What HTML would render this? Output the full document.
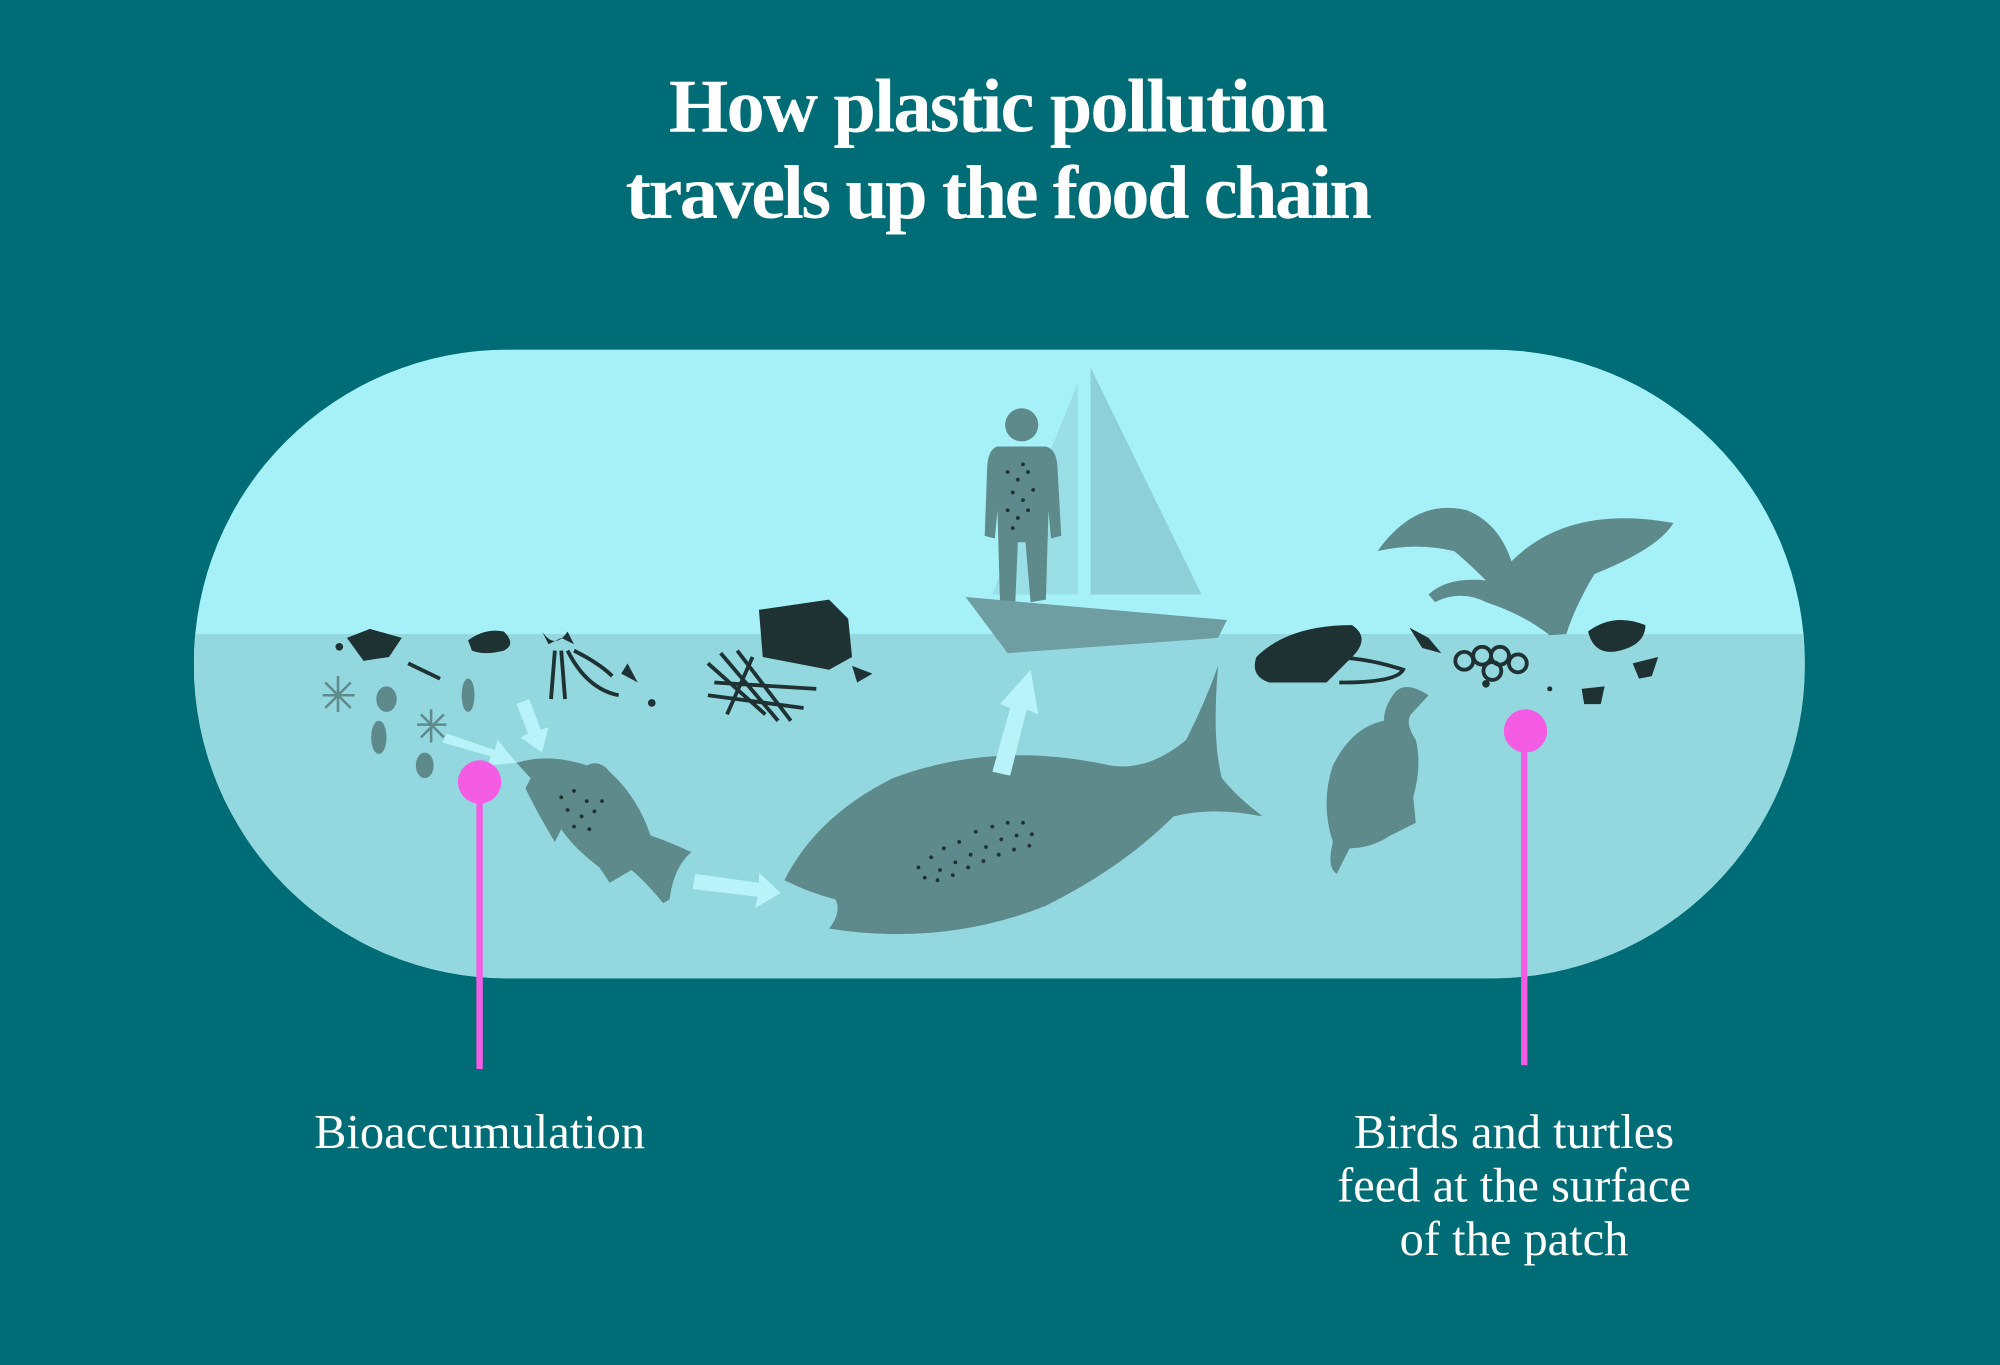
<!DOCTYPE html>
<html><head><meta charset="utf-8"><style>
html,body{margin:0;padding:0;background:#006c76;}
svg{display:block}
</style></head><body>
<svg width="2000" height="1365" viewBox="0 0 1568 1070" xmlns="http://www.w3.org/2000/svg">
<rect width="1568" height="1070" fill="#006c76"/>
<text x="782" y="103" text-anchor="middle" font-family="Liberation Serif, serif" font-weight="bold" font-size="60" fill="#fff" letter-spacing="-1.5">How plastic pollution</text>
<text x="782" y="171" text-anchor="middle" font-family="Liberation Serif, serif" font-weight="bold" font-size="60" fill="#fff" letter-spacing="-2">travels up the food chain</text>
<defs><clipPath id="cap"><rect x="152" y="274" width="1263" height="493" rx="246" ry="246"/></clipPath></defs>
<g clip-path="url(#cap)">
<rect x="152" y="274" width="1263" height="493" fill="#a6f1f8"/>
<rect x="152" y="497" width="1263" height="270" fill="#93d8df"/>
</g>
<!-- sail -->
<polygon points="855,288 942,466 855,466" fill="#8dd0d8"/>
<polygon points="845,300 845,466 778,466" fill="#9adfe6"/>
<!-- human -->
<g fill="#5e8a8c">
<circle cx="801" cy="333" r="13"/>
<path d="M782,350 L820,350 Q828,352 829,365 L832,420 L824,422 L822,400 L820,470 L808,472 L804,425 L798,425 L796,472 L784,472 L782,400 L780,422 L772,420 L774,365 Q775,352 782,350Z"/>
</g>
<g fill="#1f3233"><circle cx="790" cy="370" r="1.5"/><circle cx="798" cy="376" r="1.5"/><circle cx="806" cy="370" r="1.5"/><circle cx="794" cy="386" r="1.5"/><circle cx="802" cy="392" r="1.5"/><circle cx="810" cy="384" r="1.5"/><circle cx="790" cy="400" r="1.5"/><circle cx="798" cy="406" r="1.5"/><circle cx="806" cy="400" r="1.5"/><circle cx="794" cy="414" r="1.5"/><circle cx="802" cy="364" r="1.5"/></g>
<!-- boat -->
<polygon points="757,468 962,486 955,500 790,512" fill="#6f9ea2"/>
<!-- bird -->
<path d="M1080,432 Q1110,390 1150,400 Q1175,410 1185,440 Q1230,395 1312,410 Q1300,430 1250,450 Q1235,475 1228,497 L1215,498 Q1195,482 1165,472 Q1145,462 1125,472 L1120,466 Q1135,452 1165,455 Q1150,440 1140,432 Q1110,425 1080,432Z" fill="#5e8a8c"/>
<!-- big fish -->
<path d="M615,690 Q640,640 700,610 Q780,580 870,600 Q900,605 930,580 Q945,550 955,522 Q950,580 958,610 Q970,625 990,640 Q950,632 920,640 Q880,680 820,710 Q740,742 650,728 Q660,715 655,705 Q635,700 615,690Z" fill="#5e8a8c"/>
<g fill="#1f3233">
<circle cx="720" cy="680" r="1.5"/><circle cx="730" cy="672" r="1.5"/><circle cx="740" cy="665" r="1.5"/><circle cx="752" cy="660" r="1.5"/><circle cx="765" cy="652" r="1.5"/><circle cx="778" cy="648" r="1.5"/><circle cx="790" cy="645" r="1.5"/><circle cx="802" cy="645" r="1.5"/>
<circle cx="725" cy="688" r="1.5"/><circle cx="737" cy="682" r="1.5"/><circle cx="749" cy="676" r="1.5"/><circle cx="761" cy="670" r="1.5"/><circle cx="773" cy="664" r="1.5"/><circle cx="785" cy="658" r="1.5"/><circle cx="797" cy="655" r="1.5"/><circle cx="809" cy="654" r="1.5"/>
<circle cx="735" cy="690" r="1.5"/><circle cx="747" cy="686" r="1.5"/><circle cx="759" cy="680" r="1.5"/><circle cx="771" cy="675" r="1.5"/><circle cx="783" cy="670" r="1.5"/><circle cx="795" cy="666" r="1.5"/><circle cx="807" cy="663" r="1.5"/>
</g>
<!-- small fish -->
<path d="M405,598 Q430,590 460,600 Q470,595 478,605 Q500,625 510,655 Q525,660 542,668 Q528,680 525,705 L520,708 Q505,690 495,682 Q485,688 478,692 L470,680 Q450,665 440,650 L435,660 Q420,635 412,618 L416,610Z" fill="#5e8a8c"/>
<g fill="#1f3233"><circle cx="440" cy="625" r="1.5"/><circle cx="450" cy="620" r="1.5"/><circle cx="460" cy="628" r="1.5"/><circle cx="445" cy="635" r="1.5"/><circle cx="456" cy="640" r="1.5"/><circle cx="466" cy="636" r="1.5"/><circle cx="450" cy="648" r="1.5"/><circle cx="462" cy="650" r="1.5"/><circle cx="472" cy="628" r="1.5"/></g>
<!-- turtle -->
<path d="M1120,545 Q1100,532 1092,545 Q1085,555 1085,565 Q1060,570 1045,600 Q1035,630 1045,660 Q1040,680 1048,685 L1058,665 Q1075,665 1090,655 Q1100,650 1110,645 L1108,625 Q1115,600 1110,580 Q1100,565 1108,558Z" fill="#5e8a8c"/>
<!-- arrows -->
<g fill="#b9f3fa">
<path d="M545,685 L595,692 L595,684 L612,700 L592,712 L594,703 L543,697Z"/>
<path d="M778,605 L792,555 L784,552 L808,525 L814,560 L805,556 L792,608Z"/>
<path d="M350,575 L388,588 L390,580 L405,598 L382,600 L385,593 L347,582Z"/>
<path d="M405,552 L414,575 L408,578 L425,590 L430,570 L424,572 L415,548Z"/>
</g>
<!-- debris -->
<g fill="#1f3233">
<polygon points="272,500 290,493 315,500 305,515 285,518"/>
<path d="M367,502 Q380,492 395,495 Q405,505 395,510 Q380,514 370,510Z"/>
<path d="M425,495 L430,505 L440,500 L450,505 L445,495 Q435,510 425,495Z"/>
<path d="M595,478 L650,470 L665,485 L668,515 L650,525 L598,515Z"/>
<polygon points="487,528 492,520 500,535"/><polygon points="668,522 684,528 672,535"/>
<path d="M985,515 Q1010,490 1060,490 Q1075,500 1060,515 L1040,535 L995,535 Q980,530 985,515Z"/>
<path d="M1245,495 Q1265,480 1290,490 Q1290,505 1270,510 Q1250,515 1245,495Z"/>
<polygon points="1280,520 1300,515 1295,530 1285,532"/><polygon points="1240,540 1258,538 1255,552 1242,552"/>
<polygon points="1105,492 1120,500 1130,512 1115,508"/>
<circle cx="1165" cy="536" r="3"/><circle cx="1215" cy="540" r="2"/><circle cx="511" cy="551" r="3"/><circle cx="266" cy="507" r="3"/>
</g>
<g fill="none" stroke="#1f3233" stroke-width="3">
<path d="M435,510 L432,548 M440,510 L443,548 M445,510 Q460,540 485,545 M450,510 Q470,520 480,530"/>
<path d="M555,520 L600,560 M565,512 L610,565 M578,510 L620,565 M560,535 L640,540 M555,545 L630,555 M590,515 L570,560"/>
<path d="M1040,515 Q1070,515 1100,525 Q1095,535 1050,535"/>
<circle cx="1148" cy="518" r="7"/><circle cx="1162" cy="514" r="7"/><circle cx="1176" cy="514" r="7"/><circle cx="1190" cy="520" r="7"/><circle cx="1170" cy="526" r="7"/>
<path d="M320,520 L345,532"/>
</g>
<!-- plankton -->
<g fill="#5e8a8c" stroke="#5e8a8c" stroke-width="2">
<path d="M255,535 L275,555 M265,530 L265,558 M253,545 L278,545 M255,555 L275,535" fill="none"/>
<path d="M330,560 L348,578 M338,556 L338,582 M327,568 L350,568 M330,578 L348,560" fill="none"/>
<ellipse cx="303" cy="548" rx="7" ry="9"/><ellipse cx="297" cy="578" rx="5" ry="12"/><ellipse cx="367" cy="545" rx="4" ry="12"/><ellipse cx="333" cy="600" rx="6" ry="9"/>
</g>
<!-- pins -->
<line x1="376" y1="613" x2="376" y2="838" stroke="#f45ce4" stroke-width="5"/>
<circle cx="376" cy="613" r="17" fill="#f45ce4"/>
<line x1="1195" y1="573" x2="1195" y2="835" stroke="#f45ce4" stroke-width="5"/>
<circle cx="1196" cy="573" r="17" fill="#f45ce4"/>
<g font-family="Liberation Serif, serif" font-size="38" fill="#fff" text-anchor="middle">
<text x="376" y="900">Bioaccumulation</text>
<text x="1187" y="900">Birds and turtles</text>
<text x="1187" y="942">feed at the surface</text>
<text x="1187" y="984">of the patch</text>
</g>
</svg>
</body></html>
